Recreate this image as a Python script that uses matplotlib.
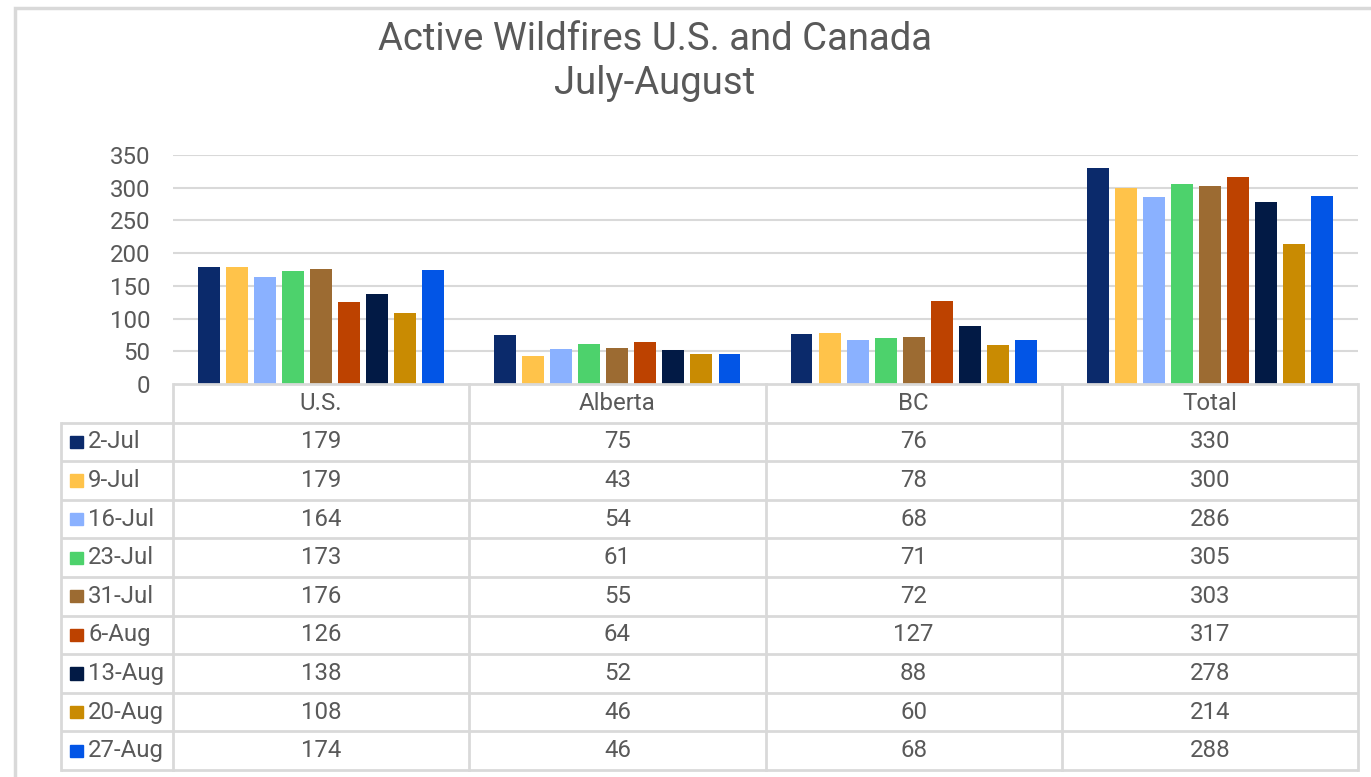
import matplotlib
matplotlib.use("Agg")
import matplotlib.pyplot as plt
from matplotlib.patches import Rectangle
import numpy as np

plt.rcParams['font.family'] = ['Roboto', 'DejaVu Sans']

title = "Active Wildfires U.S. and Canada\nJuly-August"
categories = ["U.S.", "Alberta", "BC", "Total"]
series_names = ["2-Jul", "9-Jul", "16-Jul", "23-Jul", "31-Jul", "6-Aug", "13-Aug", "20-Aug", "27-Aug"]
values = {
    "2-Jul":  [179, 75, 76, 330],
    "9-Jul":  [179, 43, 78, 300],
    "16-Jul": [164, 54, 68, 286],
    "23-Jul": [173, 61, 71, 305],
    "31-Jul": [176, 55, 72, 303],
    "6-Aug":  [126, 64, 127, 317],
    "13-Aug": [138, 52, 88, 278],
    "20-Aug": [108, 46, 60, 214],
    "27-Aug": [174, 46, 68, 288],
}
colors = ["#0B2A6B", "#FFC34A", "#8AB1FF", "#4DD26C", "#9C6B32",
          "#BD4200", "#021A45", "#C98B02", "#0255E6"]
yticks = [0, 50, 100, 150, 200, 250, 300, 350]

W, H = 1371, 777
fig = plt.figure(figsize=(W / 100, H / 100), dpi=100)
txt = "#595959"
grid = "#D9D9D9"
fs = 17.3

# outer border
fig.patches.append(Rectangle((15 / W, -0.01), 1.2, 1 - 8 / H + 0.01, transform=fig.transFigure,
                             fill=False, edgecolor="#D9D9D9", linewidth=2.5))

def fx(px):
    return px / W

def fy(py):
    return 1 - py / H

# main plot axes
x0, x1 = 173, 1358
ytop, ybot = 155, 384
ax = fig.add_axes([fx(x0), fy(ybot), fx(x1) - fx(x0), fy(ytop) - fy(ybot)])
n = len(series_names)
pitch = 0.0946
bw = 0.074
xpos = np.arange(len(categories))
for i, s in enumerate(series_names):
    ax.bar(xpos + (i - (n - 1) / 2) * pitch, values[s], width=bw, color=colors[i], zorder=3)
ax.set_xlim(-0.5, 3.5)
ax.set_ylim(0, 350)
ax.set_yticks(yticks)
ax.set_yticklabels([str(t) for t in yticks], fontsize=fs, color=txt)
ax.tick_params(axis='y', length=0, pad=16.5)
ax.set_xticks([])
for t in yticks[1:]:
    ax.axhline(t, color=grid, linewidth=1.5, zorder=1)
for sp in ax.spines.values():
    sp.set_visible(False)
ax.patch.set_alpha(0)

# table axes
tl, tr = 61, 1358
ttop, tbot = 384, 770
tax = fig.add_axes([fx(tl), fy(tbot), fx(tr) - fx(tl), fy(ttop) - fy(tbot)])
unit = (x1 - x0) / 4.0
left_val = -0.5 - (x0 - tl) / unit
tax.set_xlim(left_val, 3.5)
nrows = n + 1
tax.set_ylim(nrows, 0)
tax.axis('off')
lw = 2
# horizontal lines
tax.plot([-0.5, 3.5], [0, 0], color=grid, lw=lw, clip_on=False, solid_capstyle='butt')
for r in range(1, nrows + 1):
    tax.plot([left_val, 3.5], [r, r], color=grid, lw=lw, clip_on=False, solid_capstyle='butt')
# vertical lines
tax.plot([left_val, left_val], [1, nrows], color=grid, lw=lw, clip_on=False)
for c in range(5):
    tax.plot([-0.5 + c, -0.5 + c], [0, nrows], color=grid, lw=lw, clip_on=False)
# header
for j, c in enumerate(categories):
    tax.text(j, 0.5, c, ha='center', va='center', fontsize=fs, color=txt)
# rows
for i, s in enumerate(series_names):
    r = i + 1.5
    kx = left_val + 9 / unit
    tax.add_patch(Rectangle((kx, r - 0.16), 13 / unit, 0.32, color=colors[i], clip_on=False))
    tax.text(kx + 18 / unit, r, s, ha='left', va='center', fontsize=fs, color=txt)
    for j in range(len(categories)):
        tax.text(j, r, str(values[s][j]), ha='center', va='center', fontsize=fs, color=txt)

fig.text(fx(655), fy(61.5), title, ha='center', va='center', fontsize=27.5,
         color=txt, linespacing=1.27)

fig.savefig("out.png", dpi=100, facecolor="white")
